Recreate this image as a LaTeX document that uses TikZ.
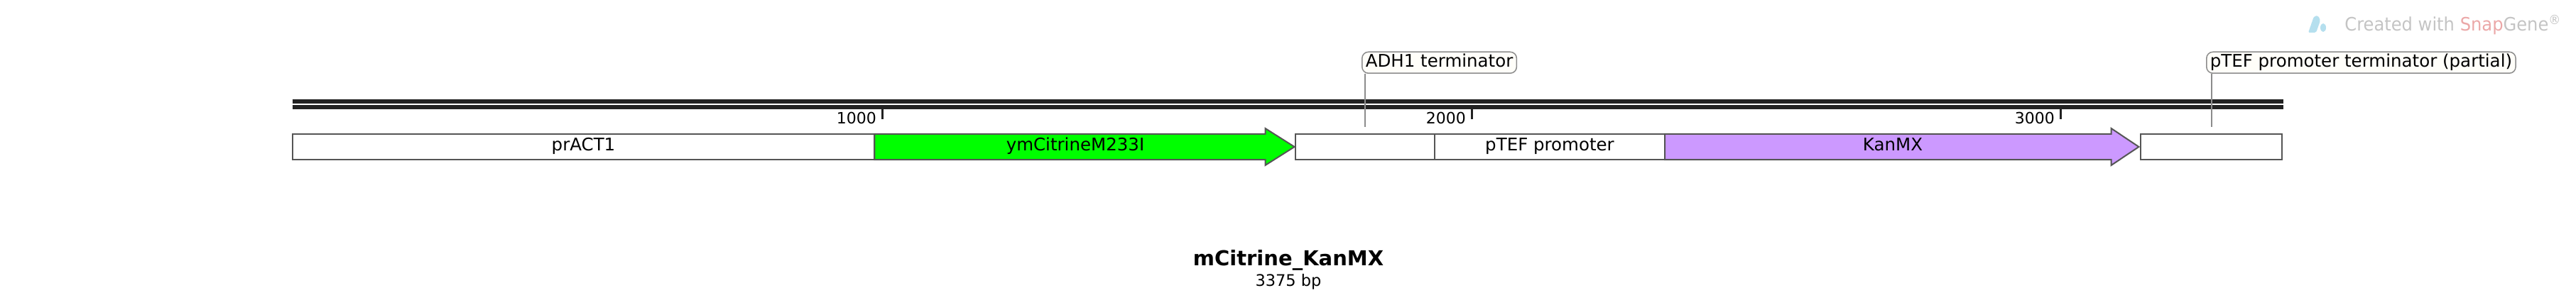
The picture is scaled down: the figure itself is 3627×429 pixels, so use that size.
\documentclass[tikz,border=0pt]{standalone}
\usepackage{fontspec}
\setmainfont{DejaVu Sans}
\newfontfamily\markfont[FakeStretch=0.93]{DejaVu Sans}
\usetikzlibrary{positioning}

\definecolor{dnablack}{HTML}{222222}
\definecolor{featedge}{HTML}{555555}
\definecolor{citrinegreen}{HTML}{00FF00}
\definecolor{kanpurple}{HTML}{CC99FF}
\definecolor{leadergray}{HTML}{8C8C8C}
\definecolor{calloutfill}{HTML}{FFFEF9}
\definecolor{markgray}{HTML}{C4C4C4}
\definecolor{markred}{HTML}{EBA8A8}
\definecolor{markblue}{HTML}{B5DFEE}

\begin{document}
\begin{tikzpicture}[x=1pt, y=1pt,
    dna/.style={draw=dnablack, line width=6pt},
    featbox/.style={rectangle, draw=featedge, line width=2pt, fill=white, minimum height=36pt, outer sep=0pt, inner sep=0pt, anchor=west, font=\fontsize{24.5}{29}\selectfont, text height=18pt, text depth=6pt},
    featarrow/.style={draw=featedge, line width=2pt},
    featlabel/.style={font=\fontsize{24.5}{29}\selectfont, text height=18pt, text depth=6pt, inner sep=0pt},
    tickmark/.style={draw=dnablack, line width=3pt},
    ticklabel/.style={font=\fontsize{22}{26}\selectfont, anchor=base east, inner sep=0pt},
    callout/.style={rectangle, draw=leadergray, line width=1.5pt, fill=calloutfill, rounded corners=9pt, font=\fontsize{24.5}{29}\selectfont, anchor=south west, inner xsep=5pt, inner ysep=0pt, text height=18pt, text depth=5pt, minimum height=30pt},
    leader/.style={draw=leadergray, line width=2pt}]

    \useasboundingbox (0,0) rectangle (3627,429);

    % backbone, two strands
    \coordinate (dnastart) at (411.6,282);
    \coordinate (dnaend) at (3215,282);
    \draw [dna] ([yshift=4pt]dnastart) -- ([yshift=4pt]dnaend);
    \draw [dna] ([yshift=-4pt]dnastart) -- ([yshift=-4pt]dnaend);

    % ruler
    \draw [tickmark] (1242,261) -- (1242,275);
    \node [ticklabel] (tick1000) at (1234,254) {1000};
    \draw [tickmark] (2072,261) -- (2072,275);
    \node [ticklabel] (tick2000) at (2064,254) {2000};
    \draw [tickmark] (2901,261) -- (2901,275);
    \node [ticklabel] (tick3000) at (2893,254) {3000};

    % features
    \node [featbox, minimum width=819.8pt] (pract) at (411.6,222) {prACT1};
    \draw [featarrow, fill=citrinegreen] (1231.4,204) -- (1781.5,204) -- (1781.5,196) -- (1822.6,222) -- (1781.5,248) -- (1781.5,240) -- (1231.4,240) -- cycle;
    \node [featlabel] (citrine) at (1514,222) {ymCitrineM233I};
    \node [featbox, minimum width=196pt] (adh) at (1824,222) {};
    \node [featbox, minimum width=324pt] (ptef) at (2020,222) {pTEF promoter};
    \draw [featarrow, fill=kanpurple] (2344,204) -- (2972.6,204) -- (2972.6,196) -- (3011.4,222) -- (2972.6,248) -- (2972.6,240) -- (2344,240) -- cycle;
    \node [featlabel] (kanmx) at (2665,222) {KanMX};
    \node [featbox, minimum width=199pt] (ptefpart) at (3014,222) {};

    % callouts
    \node [callout] (adhlabel) at (1917,325) {ADH1 terminator};
    \node [callout] (ptefpartlabel) at (3106,325) {pTEF promoter terminator (partial)};
    \draw [leader] (adh.north |- adhlabel.south) -- ([yshift=10pt]adh.north);
    \draw [leader] (ptefpart.north |- ptefpartlabel.south) -- ([yshift=10pt]ptefpart.north);

    % name and size
    \node [anchor=base, inner sep=0pt, font=\bfseries\fontsize{29}{34}\selectfont] (title) at (1814,55) {mCitrine\_KanMX};
    \node [anchor=base, inner sep=0pt, font=\fontsize{22.5}{27}\selectfont] (length) at (1814,26) {3375 bp};

    % watermark
    \fill [markblue, rounded corners=2pt] (3250,383) -- (3258,406) -- (3264,407) -- (3267,400) -- (3261,383) -- cycle;
    \fill [markblue] (3271,390) ellipse [x radius=4, y radius=6];
    \node [anchor=base east, inner sep=0pt, text=markgray, font=\markfont\fontsize{26}{30}\selectfont] (snapmark) at (3606,385) {Created with \textcolor{markred}{Snap}Gene\textsuperscript{®}};
\end{tikzpicture}
\end{document}
